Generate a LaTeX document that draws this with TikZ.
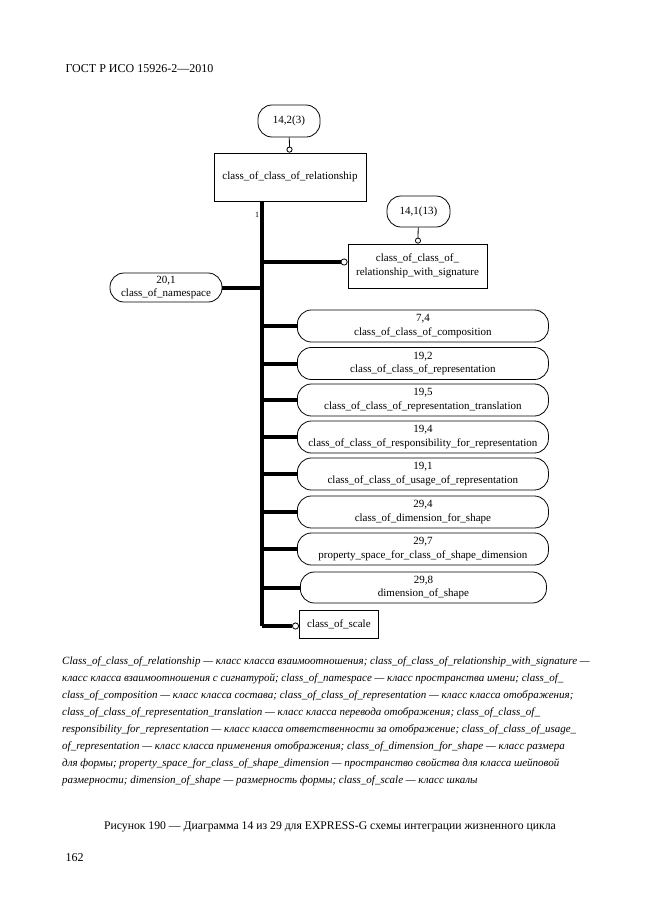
\documentclass[tikz,border=0pt]{standalone}
\usepackage{fontspec}
\setmainfont{Liberation Serif}
\usepackage{tikz}
\usetikzlibrary{arrows.meta}
\usetikzlibrary{positioning}

\tikzset{
  entbox/.style={draw, line width=0.8pt, align=center, inner sep=0pt,
    font=\fontsize{11}{13.5}\selectfont},
  refbox/.style={entbox, rounded corners=14pt},
  thinlink/.style={line width=0.8pt, -{Circle[fill=white, length=6pt, line width=0.8pt]}},
  trunk/.style={line width=4pt},
  trunklink/.style={line width=4pt, -{Circle[fill=white, length=7pt, line width=0.8pt]}},
}

\begin{document}
\begin{tikzpicture}[x=1pt, y=-1pt]
\useasboundingbox[fill=white] (0,0) rectangle (661,913);

% header
\node[anchor=base west, font=\fontsize{12}{14}\selectfont] (hdr) at (62,72) {ГОСТ Р ИСО 15926-2—2010};

% top entity with its reference
\node[refbox, minimum width=62, minimum height=32] (ref142) at (289,121) {14,2(3)};
\node[entbox, minimum width=152, minimum height=48] (ccrel) at (290,177) {class\_of\_class\_of\_relationship};
\draw[thinlink] (ref142) -- (ccrel);
\coordinate (trunkend) at (262,626);
\node[font=\fontsize{8}{9}\selectfont] (one) at (257,215) {1};

% signature entity
\node[refbox, minimum width=63, minimum height=31] (ref1413) at (418.5,211.5) {14,1(13)};
\node[entbox, minimum width=139, minimum height=44] (ccrelsig) at (417.5,266) {class\_of\_class\_of\_\\relationship\_with\_signature};
\draw[thinlink] (ref1413) -- (ccrelsig);

% namespace on the left
\node[refbox, minimum width=112, minimum height=29] (ns) at (166,287.5) {20,1\\class\_of\_namespace};

% stadiums on the right
\node[refbox, anchor=west, minimum width=251, minimum height=32] (r74) at (297,326) {7,4\\class\_of\_class\_of\_composition};
\node[refbox, anchor=west, minimum width=251, minimum height=32] (r192) at (297,363.5) {19,2\\class\_of\_class\_of\_representation};
\node[refbox, anchor=west, minimum width=251, minimum height=32] (r195) at (297,400) {19,5\\class\_of\_class\_of\_representation\_translation};
\node[refbox, anchor=west, minimum width=251, minimum height=32] (r194) at (297,437) {19,4\\class\_of\_class\_of\_responsibility\_for\_representation};
\node[refbox, anchor=west, minimum width=251, minimum height=32] (r191) at (297,474) {19,1\\class\_of\_class\_of\_usage\_of\_representation};
\node[refbox, anchor=west, minimum width=251, minimum height=32] (r294) at (297,512) {29,4\\class\_of\_dimension\_for\_shape};
\node[refbox, anchor=west, minimum width=251, minimum height=32] (r297) at (297,549) {29,7\\property\_space\_for\_class\_of\_shape\_dimension};
\node[refbox, anchor=west, minimum width=246, minimum height=31] (r298) at (300,587.5) {29,8\\dimension\_of\_shape};
\node[entbox, anchor=west, minimum width=79, minimum height=28] (scale) at (299,624) {class\_of\_scale};

% trunk and branches
\draw[trunk] (ccrel.south -| trunkend) -- (trunkend);
\draw[trunklink] (trunkend) -- (trunkend -| scale.west);
\draw[trunklink] ([yshift=4pt]ccrelsig.west -| trunkend) -- ([yshift=4pt]ccrelsig.west);
\draw[trunk] (ns.east -| trunkend) -- (ns.east);
\draw[trunk] (r74.west -| trunkend) -- (r74.west);
\draw[trunk] (r192.west -| trunkend) -- (r192.west);
\draw[trunk] (r195.west -| trunkend) -- (r195.west);
\draw[trunk] (r194.west -| trunkend) -- (r194.west);
\draw[trunk] (r191.west -| trunkend) -- (r191.west);
\draw[trunk] (r294.west -| trunkend) -- (r294.west);
\draw[trunk] (r297.west -| trunkend) -- (r297.west);
\draw[trunk] (r298.west -| trunkend) -- (r298.west);

% legend
\node[anchor=north west, align=left, inner sep=0pt, font=\fontsize{11}{17}\selectfont\itshape] (legend) at (62,657)
{Class\_of\_class\_of\_relationship — класс класса взаимоотношения; class\_of\_class\_of\_relationship\_with\_signature —\\
класс класса взаимоотношения с сигнатурой; class\_of\_namespace — класс пространства имени; class\_of\_\\
class\_of\_composition — класс класса состава; class\_of\_class\_of\_representation — класс класса отображения;\\
class\_of\_class\_of\_representation\_translation — класс класса перевода отображения; class\_of\_class\_of\_\\
responsibility\_for\_representation — класс класса ответственности за отображение; class\_of\_class\_of\_usage\_\\
of\_representation — класс класса применения отображения; class\_of\_dimension\_for\_shape — класс размера\\
для формы; property\_space\_for\_class\_of\_shape\_dimension — пространство свойства для класса шейповой\\
размерности; dimension\_of\_shape — размерность формы; class\_of\_scale — класс шкалы};

% caption and page number
\node[anchor=base, font=\fontsize{11.7}{13}\selectfont] (caption) at (330,829) {Рисунок 190 — Диаграмма 14 из 29 для EXPRESS-G схемы интеграции жизненного цикла};
\node[anchor=base west, font=\fontsize{12}{14}\selectfont] (pageno) at (62,861) {162};

\end{tikzpicture}
\end{document}
